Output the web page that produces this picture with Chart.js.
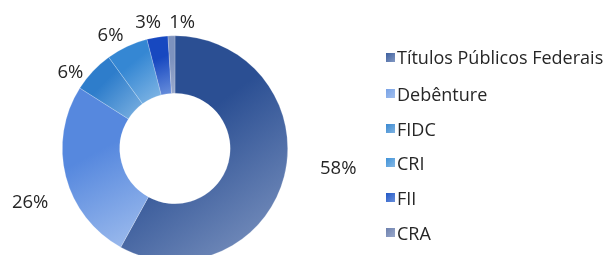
<!DOCTYPE html>
<html>
<head>
<meta charset="utf-8">
<script src="https://cdn.jsdelivr.net/npm/chart.js@4"></script>
<style>
  html, body { margin: 0; padding: 0; background: #fff; overflow: hidden; }
  #wrap { position: relative; width: 606px; height: 255px; }
  #chart { position: absolute; left: 0; top: 0; }
  #legend { position: absolute; left: 386px; top: 0; font-family: "Open Sans", sans-serif; font-size: 18px; color: #262626; }
  .lg-row { position: absolute; left: 0; white-space: nowrap; display: flex; align-items: center; height: 24px; }
  .lg-box { width: 9px; height: 9px; margin-right: 2px; }
</style>
</head>
<body>
<div id="wrap">
  <canvas id="chart" width="606" height="270"></canvas>
  <div id="legend"></div>
</div>
<script>
// data
const labels = ["Títulos Públicos Federais", "Debênture", "FIDC", "CRI", "FII", "CRA"];
const shares = [58, 26, 6, 6, 3, 1];
const pctLabels = ["58%", "26%", "6%", "6%", "3%", "1%"];

// colours: gradient start (top-left) / end (bottom-right), legend swatch
const colorStart = ["#2b4f93", "#5688de", "#2e7dcb", "#3587d3", "#1748c0", "#7d92be"];
const colorEnd   = ["#8399c3", "#a2bfee", "#7fb3e2", "#86b9e6", "#6a90dc", "#9aa9cc"];
const swatch     = ["#3d5f9e", "#78a2e6", "#3a89d1", "#3f92d8", "#2157c6", "#6d80ad"];

// label placement tweaks (degrees shift from slice middle, px beyond outer edge)
const labelShift = [-7.6, -5.7, -7, -4.3, -3, 5];
const labelExtra = [51.7, 41.5, 17, 18.3, 16.6, 14];

function sliceGradient(c) {
  const chart = c.chart;
  const area = chart.chartArea;
  if (!area) return colorStart[c.dataIndex];
  const i = c.dataIndex;
  const total = shares.reduce((a, b) => a + b, 0);
  let before = 0;
  for (let k = 0; k < i; k++) before += shares[k];
  const a0 = before / total * Math.PI * 2;
  const a1 = (before + shares[i]) / total * Math.PI * 2;
  const cx = (area.left + area.right) / 2;
  const cy = (area.top + area.bottom) / 2;
  const R = Math.min(area.right - area.left, area.bottom - area.top) / 2;
  const r = R * 0.49;
  let minX = Infinity, minY = Infinity, maxX = -Infinity, maxY = -Infinity;
  for (let s = 0; s <= 40; s++) {
    const a = a0 + (a1 - a0) * s / 40;
    [R, r].forEach((rad) => {
      const x = cx + Math.sin(a) * rad;
      const y = cy - Math.cos(a) * rad;
      minX = Math.min(minX, x); maxX = Math.max(maxX, x);
      minY = Math.min(minY, y); maxY = Math.max(maxY, y);
    });
  }
  const g = chart.ctx.createLinearGradient(minX, minY, maxX, maxY);
  g.addColorStop(0, colorStart[i]);
  g.addColorStop(0.4, colorStart[i]);
  g.addColorStop(1, colorEnd[i]);
  return g;
}

const pctLabelPlugin = {
  id: "pctLabels",
  afterDatasetsDraw(chart) {
    const ctx = chart.ctx;
    const meta = chart.getDatasetMeta(0);
    ctx.save();
    ctx.font = "18.5px 'Open Sans', sans-serif";
    ctx.fillStyle = "#262626";
    ctx.textAlign = "center";
    ctx.textBaseline = "middle";
    meta.data.forEach((arc, i) => {
      const p = arc.getProps(["x", "y", "startAngle", "endAngle", "outerRadius"], true);
      const mid = (p.startAngle + p.endAngle) / 2 + labelShift[i] * Math.PI / 180;
      const d = p.outerRadius + labelExtra[i];
      ctx.fillText(pctLabels[i], p.x + Math.cos(mid) * d, p.y + Math.sin(mid) * d + 1);
    });
    ctx.restore();
  },
};

new Chart(document.getElementById("chart"), {
  type: "doughnut",
  data: {
    labels,
    datasets: [
      {
        data: shares,
        backgroundColor: sliceGradient,
        borderColor: "rgba(255,255,255,0.35)",
        borderWidth: 0.6,
      },
    ],
  },
  options: {
    responsive: false,
    animation: false,
    cutout: "49%",
    layout: { padding: { left: 62, right: 318, top: 35.5, bottom: 8.5 } },
    plugins: {
      legend: { display: false },
      tooltip: { enabled: false },
    },
  },
  plugins: [pctLabelPlugin],
});

// legend
const legendRowsY = [57, 93.5, 128.5, 162.5, 197.5, 232.5];
const legendEl = document.getElementById("legend");
labels.forEach((name, i) => {
  const row = document.createElement("div");
  row.className = "lg-row";
  row.style.top = (legendRowsY[i] - 12) + "px";
  const box = document.createElement("span");
  box.className = "lg-box";
  box.style.background = `linear-gradient(135deg, ${swatch[i]}, ${colorEnd[i]})`;
  const txt = document.createElement("span");
  txt.textContent = name;
  row.appendChild(box);
  row.appendChild(txt);
  legendEl.appendChild(row);
});
</script>
</body>
</html>
